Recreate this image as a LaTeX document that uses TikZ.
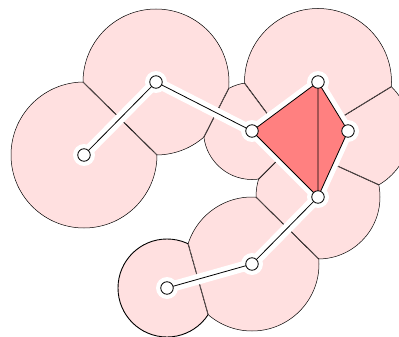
\documentclass[tikz,border=0pt]{standalone}
\usetikzlibrary{calc}
\definecolor{diskfill}{RGB}{255,224,224}
\definecolor{trifill}{RGB}{255,128,128}
\tikzset{
  bound/.style={draw=black, line width=0.5pt},
  chordstyle/.style={draw=black, line width=0.9pt},
  halo/.style={draw=white, line width=10.5pt, line join=round, line cap=round},
  edgeline/.style={draw=black, line width=0.8pt, line join=round},
  vert/.style={circle, draw=black, fill=white, line width=0.8pt, minimum size=12.5pt, inner sep=0pt},
}
\newcommand\halfclip[4]{%
  \clip let \p1=(#1), \p2=(#2),
    \n1={veclen(\x2-\x1,\y2-\y1)},
    \n2={atan2(\y2-\y1,\x2-\x1)},
    \n3={\n1/2+(#3*#3-#4*#4)/(2*\n1)},
    \n5={\n2+90}, \n6={\n2-90}, \n7={\n2+180}
  in ($(#1)+(\n2:\n3)+(\n5:600)$) -- ++(\n7:1200) -- ++(\n6:1200) -- ++(\n2:1200) -- cycle;}
\newcommand\mychord[4]{%
  \draw[chordstyle] let \p1=(#1), \p2=(#2),
    \n1={veclen(\x2-\x1,\y2-\y1)},
    \n2={atan2(\y2-\y1,\x2-\x1)},
    \n3={\n1/2+(#3*#3-#4*#4)/(2*\n1)},
    \n4={sqrt(#3*#3-\n3*\n3)},
    \n5={\n2+90}, \n6={\n2-90}
  in ($(#1)+(\n2:\n3)+(\n5:\n4)$) -- ($(#1)+(\n2:\n3)+(\n6:\n4)$);}
\newcommand\disk[3][]{%
  \fill[diskfill] (#2) circle[radius=#3];
  \draw[bound,#1] (#2) circle[radius=#3];}
\begin{document}
\begin{tikzpicture}[x=1pt,y=1pt]
\useasboundingbox (0,0) rectangle (399,-337);
\clip (0,0) rectangle (399,-337);
\coordinate (A) at (84,-155);
\coordinate (B) at (156,-82);
\coordinate (C) at (252,-131);
\coordinate (D) at (318,-82);
\coordinate (E) at (348,-131);
\coordinate (F) at (318,-197);
\coordinate (G) at (252,-264);
\coordinate (H) at (167,-288);
\def\rA{73}\def\rB{73}\def\rC{48.5}\def\rD{73.5}
\def\rE{62}\def\rF{62}\def\rG{67}\def\rH{49}
% cell A
\begin{scope}
  \halfclip{A}{B}{\rA}{\rB}
  \disk{A}{\rA}
  \mychord{A}{B}{\rA}{\rB}
\end{scope}
% cell B
\begin{scope}
  \halfclip{B}{A}{\rB}{\rA}
  \halfclip{B}{C}{\rB}{\rC}
  \disk{B}{\rB}
  \mychord{B}{A}{\rB}{\rA}
  \mychord{B}{C}{\rB}{\rC}
\end{scope}
% cell C
\begin{scope}
  \halfclip{C}{B}{\rC}{\rB}
  \halfclip{C}{D}{\rC}{\rD}
  \halfclip{C}{E}{\rC}{\rE}
  \halfclip{C}{F}{\rC}{\rF}
  \disk{C}{\rC}
  \mychord{C}{B}{\rC}{\rB}
  \mychord{C}{D}{\rC}{\rD}
  \mychord{C}{E}{\rC}{\rE}
  \mychord{C}{F}{\rC}{\rF}
\end{scope}
% cell D
\begin{scope}
  \halfclip{D}{C}{\rD}{\rC}
  \halfclip{D}{E}{\rD}{\rE}
  \halfclip{D}{F}{\rD}{\rF}
  \disk{D}{\rD}
  \mychord{D}{C}{\rD}{\rC}
  \mychord{D}{E}{\rD}{\rE}
  \mychord{D}{F}{\rD}{\rF}
\end{scope}
% cell E
\begin{scope}
  \halfclip{E}{C}{\rE}{\rC}
  \halfclip{E}{D}{\rE}{\rD}
  \halfclip{E}{F}{\rE}{\rF}
  \disk{E}{\rE}
  \mychord{E}{C}{\rE}{\rC}
  \mychord{E}{D}{\rE}{\rD}
  \mychord{E}{F}{\rE}{\rF}
\end{scope}
% cell F
\begin{scope}
  \halfclip{F}{C}{\rF}{\rC}
  \halfclip{F}{D}{\rF}{\rD}
  \halfclip{F}{E}{\rF}{\rE}
  \halfclip{F}{G}{\rF}{\rG}
  \disk{F}{\rF}
  \mychord{F}{C}{\rF}{\rC}
  \mychord{F}{D}{\rF}{\rD}
  \mychord{F}{E}{\rF}{\rE}
  \mychord{F}{G}{\rF}{\rG}
\end{scope}
% cell G
\begin{scope}
  \halfclip{G}{F}{\rG}{\rF}
  \halfclip{G}{H}{\rG}{\rH}
  \disk{G}{\rG}
  \mychord{G}{F}{\rG}{\rF}
  \mychord{G}{H}{\rG}{\rH}
\end{scope}
% cell H
\begin{scope}
  \halfclip{H}{G}{\rH}{\rG}
  \disk[line width=0.9pt]{H}{\rH}
  \mychord{H}{G}{\rH}{\rG}
\end{scope}
% halos
\draw[halo] (A) -- (B) -- (C) -- (D) -- (E) -- (F) -- (C);
\draw[halo] (D) -- (F) -- (G) -- (H);
\foreach \p in {A,B,C,D,E,F,G,H} \fill[white] (\p) circle[radius=11];
% triangles
\fill[trifill] (C) -- (D) -- (F) -- cycle;
\fill[trifill] (D) -- (E) -- (F) -- cycle;
% edges
\draw[edgeline] (A) -- (B) -- (C) -- (D) -- (E) -- (F) -- (C);
\draw[edgeline] (D) -- (F) -- (G) -- (H);
% vertices
\foreach \p in {A,B,C,D,E,F,G,H} \node[vert] (v\p) at (\p) {};
\end{tikzpicture}
\end{document}
